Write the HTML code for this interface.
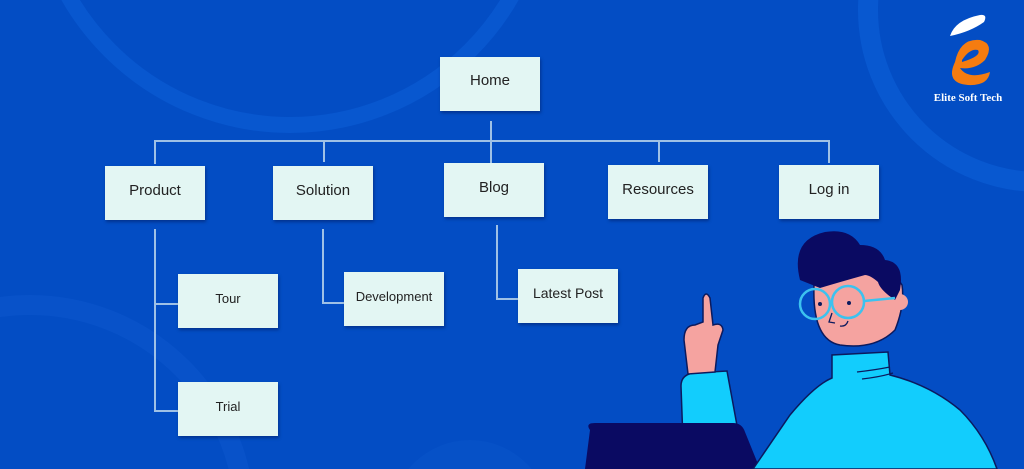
<!DOCTYPE html>
<html><head><meta charset="utf-8"><style>
html,body{margin:0;padding:0;}
body{width:1024px;height:469px;overflow:hidden;background:#034dc4;position:relative;font-family:"Liberation Sans",sans-serif;}
.b{position:absolute;background:#e3f6f3;box-shadow:1px 2px 3px rgba(0,0,40,.35);display:flex;align-items:center;justify-content:center;font-size:15px;color:#222;}
.l{position:absolute;background:#9fc1e6;}
</style></head><body>
<svg width="1024" height="469" style="position:absolute;left:0;top:0;overflow:hidden">
<circle cx="290" cy="-130" r="255" fill="none" stroke="#0857cf" stroke-width="16"/>
<circle cx="1040" cy="10" r="172" fill="none" stroke="#0858d0" stroke-width="20"/>
<circle cx="30" cy="520" r="215" fill="none" stroke="#0852c9" stroke-width="20"/>
<circle cx="470" cy="520" r="80" fill="#0651c7"/>
<!-- logo -->
<path d="M950 36 Q955 20 980 15 Q988 14 984 22 Q970 32 950 36Z" fill="#fff"/>
<path d="M955 62 Q960 38 980 40 Q995 44 985 60 Q975 70 960 68 Q968 80 990 72 Q988 86 968 85 Q945 83 955 62Z" fill="#f57c10"/>
<path d="M962 60 Q970 48 978 50 Q982 56 962 62Z" fill="#034dc4"/>
<text x="968" y="101" font-family="Liberation Serif,serif" font-weight="bold" font-size="11" fill="#fff" text-anchor="middle">Elite Soft Tech</text>
<!-- arm -->
<path d="M681 386 Q681 375 693 373 L727 371 L745 469 L684 469Z" fill="#12cdfd" stroke="#0b1a5e" stroke-width="1.5"/>
<!-- laptop (in front of arm) -->
<path d="M590 430 Q585 423 595 423 L733 423 Q742 423 745 432 L760 469 L585 469Z" fill="#0a0a62"/>
<!-- hand -->
<path d="M688 374 L684 340 Q684 325 695 325 L703 322 L703 298 Q706 290 710 298 L713 325 Q722 322 723 330 L718 345 L715 372Z" fill="#f5a3a0" stroke="#0b1a5e" stroke-width="1.5"/>
<!-- body -->
<path d="M753 469 L790 415 Q815 385 832 378 L832 355 L888 352 L890 375 Q930 385 960 410 Q985 435 997 469Z" fill="#12cdfd" stroke="#0b1a5e" stroke-width="1.5"/>
<path d="M857 372 Q875 370 890 367 M862 379 Q880 377 893 373" stroke="#0b1a5e" stroke-width="1.3" fill="none"/>
<!-- head -->
<path d="M814 285 Q812 340 840 345 Q875 350 895 330 Q905 305 902 285 Q880 250 840 260Z" fill="#f5a3a0" stroke="#0b1a5e" stroke-width="1.5"/>
<circle cx="900" cy="302" r="8" fill="#f5a3a0"/>
<path d="M800 280 Q790 240 825 232 Q850 228 860 245 Q880 245 885 260 Q905 262 900 290 L895 300 Q880 290 878 282 Q870 275 865 275 Q840 282 820 288Z" fill="#0a0a62"/>
<circle cx="815" cy="304" r="15" fill="none" stroke="#3cc2ef" stroke-width="2.5"/>
<circle cx="848" cy="302" r="16" fill="none" stroke="#3cc2ef" stroke-width="2.5"/>
<line x1="864" y1="301" x2="895" y2="298" stroke="#3cc2ef" stroke-width="2.5"/>
<circle cx="820" cy="304" r="2" fill="#0b1a5e"/><circle cx="849" cy="303" r="2" fill="#0b1a5e"/>
<path d="M832 313 L829 322 L835 323 M840 326 Q846 327 848 321" stroke="#0b1a5e" stroke-width="1.3" fill="none"/>
</svg>
<!-- lines -->
<div class="l" style="left:490px;top:121px;width:2px;height:42px"></div>
<div class="l" style="left:154px;top:140px;width:676px;height:2px"></div>
<div class="l" style="left:154px;top:140px;width:2px;height:24px"></div>
<div class="l" style="left:323px;top:140px;width:2px;height:22px"></div>
<div class="l" style="left:658px;top:140px;width:2px;height:22px"></div>
<div class="l" style="left:828px;top:140px;width:2px;height:23px"></div>
<div class="l" style="left:154px;top:229px;width:2px;height:183px"></div>
<div class="l" style="left:154px;top:303px;width:24px;height:2px"></div>
<div class="l" style="left:154px;top:410px;width:24px;height:2px"></div>
<div class="l" style="left:322px;top:229px;width:2px;height:74px"></div>
<div class="l" style="left:322px;top:302px;width:22px;height:2px"></div>
<div class="l" style="left:496px;top:225px;width:2px;height:75px"></div>
<div class="l" style="left:496px;top:298px;width:22px;height:2px"></div>
<!-- boxes -->
<div class="b" style="left:440px;top:57px;width:100px;height:54px;padding-bottom:8px;box-sizing:border-box">Home</div>
<div class="b" style="left:105px;top:166px;width:100px;height:54px;padding-bottom:6px;box-sizing:border-box">Product</div>
<div class="b" style="left:273px;top:166px;width:100px;height:54px;padding-bottom:6px;box-sizing:border-box">Solution</div>
<div class="b" style="left:444px;top:163px;width:100px;height:54px;padding-bottom:6px;box-sizing:border-box">Blog</div>
<div class="b" style="left:608px;top:165px;width:100px;height:54px;padding-bottom:6px;box-sizing:border-box">Resources</div>
<div class="b" style="left:779px;top:165px;width:100px;height:54px;padding-bottom:6px;box-sizing:border-box">Log in</div>
<div class="b" style="left:178px;top:274px;width:100px;height:54px;padding-bottom:6px;box-sizing:border-box;font-size:13px">Tour</div>
<div class="b" style="left:178px;top:382px;width:100px;height:54px;padding-bottom:6px;box-sizing:border-box;font-size:13px">Trial</div>
<div class="b" style="left:344px;top:272px;width:100px;height:54px;padding-bottom:6px;box-sizing:border-box;font-size:13px">Development</div>
<div class="b" style="left:518px;top:269px;width:100px;height:54px;padding-bottom:6px;box-sizing:border-box;font-size:14px">Latest Post</div>
</body></html>
